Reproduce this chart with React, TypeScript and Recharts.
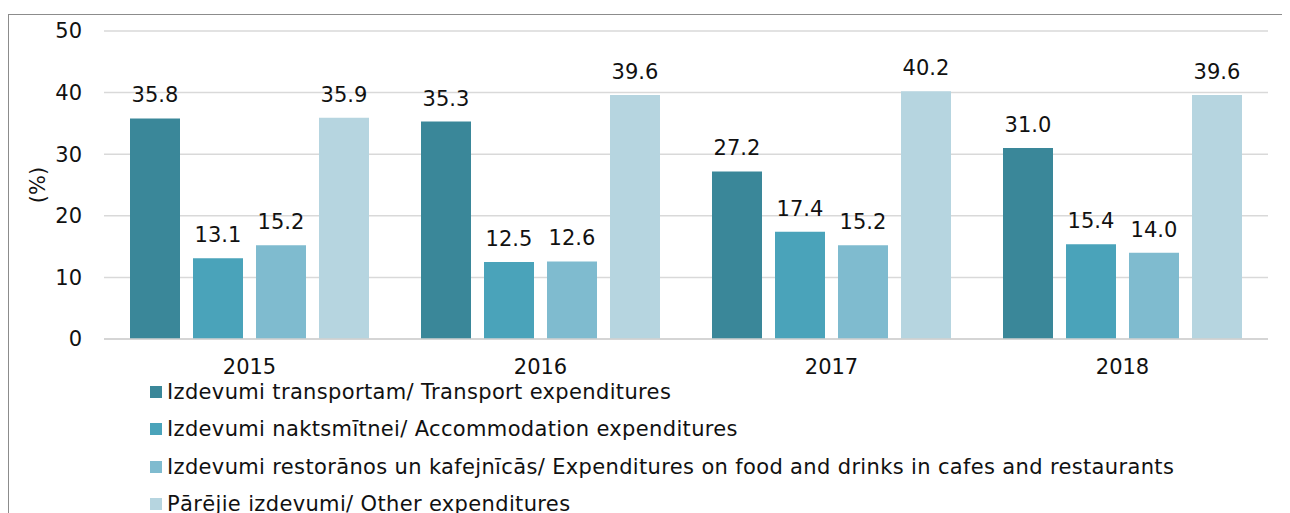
import React from 'react';
import { BarChart, Bar, XAxis, YAxis, CartesianGrid, Legend, LabelList } from 'recharts';

const years = ['2015', '2016', '2017', '2018'];
const transport = [35.8, 35.3, 27.2, 31.0];
const accommodation = [13.1, 12.5, 17.4, 15.4];
const food = [15.2, 12.6, 15.2, 14.0];
const other = [35.9, 39.6, 40.2, 39.6];
const yTicks = [0, 10, 20, 30, 40, 50];

const seriesNames = [
  'Izdevumi transportam/ Transport expenditures',
  'Izdevumi naktsmītnei/ Accommodation expenditures',
  'Izdevumi restorānos un kafejnīcās/ Expenditures on food and drinks in cafes and restaurants',
  'Pārējie izdevumi/ Other expenditures',
];
const colors = ['#3A8799', '#4AA3BA', '#7FBBCF', '#B6D5E0'];

const data = years.map((y, i) => ({
  year: y,
  transport: transport[i],
  accommodation: accommodation[i],
  food: food[i],
  other: other[i],
}));
const keys = ['transport', 'accommodation', 'food', 'other'];

const FONT = '"DejaVu Sans", Verdana, sans-serif';
const FS = 21;

const LegendContent = () => (
  <div style={{ height: 150, paddingLeft: 141, fontFamily: FONT, fontSize: FS, color: '#111', boxSizing: 'border-box' }}>
    <div style={{ position: 'relative', top: -4 }}>
      {seriesNames.map((n, i) => (
        <div key={n} style={{ height: 37.5, display: 'flex', alignItems: 'center' }}>
          <span style={{ display: 'inline-block', width: 12, height: 12, background: colors[i], marginRight: 5 }} />
          <span style={{ whiteSpace: 'nowrap', letterSpacing: 0.35 }}>{n}</span>
        </div>
      ))}
    </div>
  </div>
);

export default function App() {
  return (
    <div style={{ paddingTop: 6 }}>
      <div style={{ width: 1283, height: 520, border: '1px solid #8c8c8c', borderRight: 'none', boxSizing: 'border-box', background: '#fff' }}>
        <BarChart
          width={1281}
          height={512}
          data={data}
          margin={{ top: 16, right: 22, left: 0, bottom: 0 }}
          barGap={13}
          barCategoryGap="9%"
          style={{ fontFamily: FONT }}
        >
          <CartesianGrid vertical={false} stroke="#d9d9d9" strokeWidth={1.5} />
          <XAxis
            dataKey="year"
            height={38}
            tickLine={false}
            axisLine={{ stroke: '#d0d0d0', strokeWidth: 1.5 }}
            tick={{ fontSize: FS, fill: '#111', fontFamily: FONT }}
            tickMargin={14}
          />
          <YAxis
            width={95}
            domain={[0, 50]}
            ticks={yTicks}
            interval={0}
            tickLine={false}
            axisLine={false}
            tickSize={0}
            tickMargin={22}
            tick={{ fontSize: FS, fill: '#111', fontFamily: FONT }}
            label={{ value: '(%)', angle: -90, position: 'center', dx: -19, style: { fontSize: FS, fill: '#111', fontFamily: FONT } }}
          />
          <Legend
            layout="horizontal"
            verticalAlign="bottom"
            align="left"
            content={<LegendContent />}
            wrapperStyle={{ left: 0, width: 1281 }}
          />
          {keys.map((k, i) => (
            <Bar key={k} dataKey={k} name={seriesNames[i]} fill={colors[i]} isAnimationActive={false} barSize={50}>
              <LabelList
                dataKey={k}
                position="top"
                offset={16}
                formatter={(v: number) => v.toFixed(1)}
                style={{ fontSize: FS, fill: '#111', fontFamily: FONT }}
              />
            </Bar>
          ))}
        </BarChart>
      </div>
    </div>
  );
}
